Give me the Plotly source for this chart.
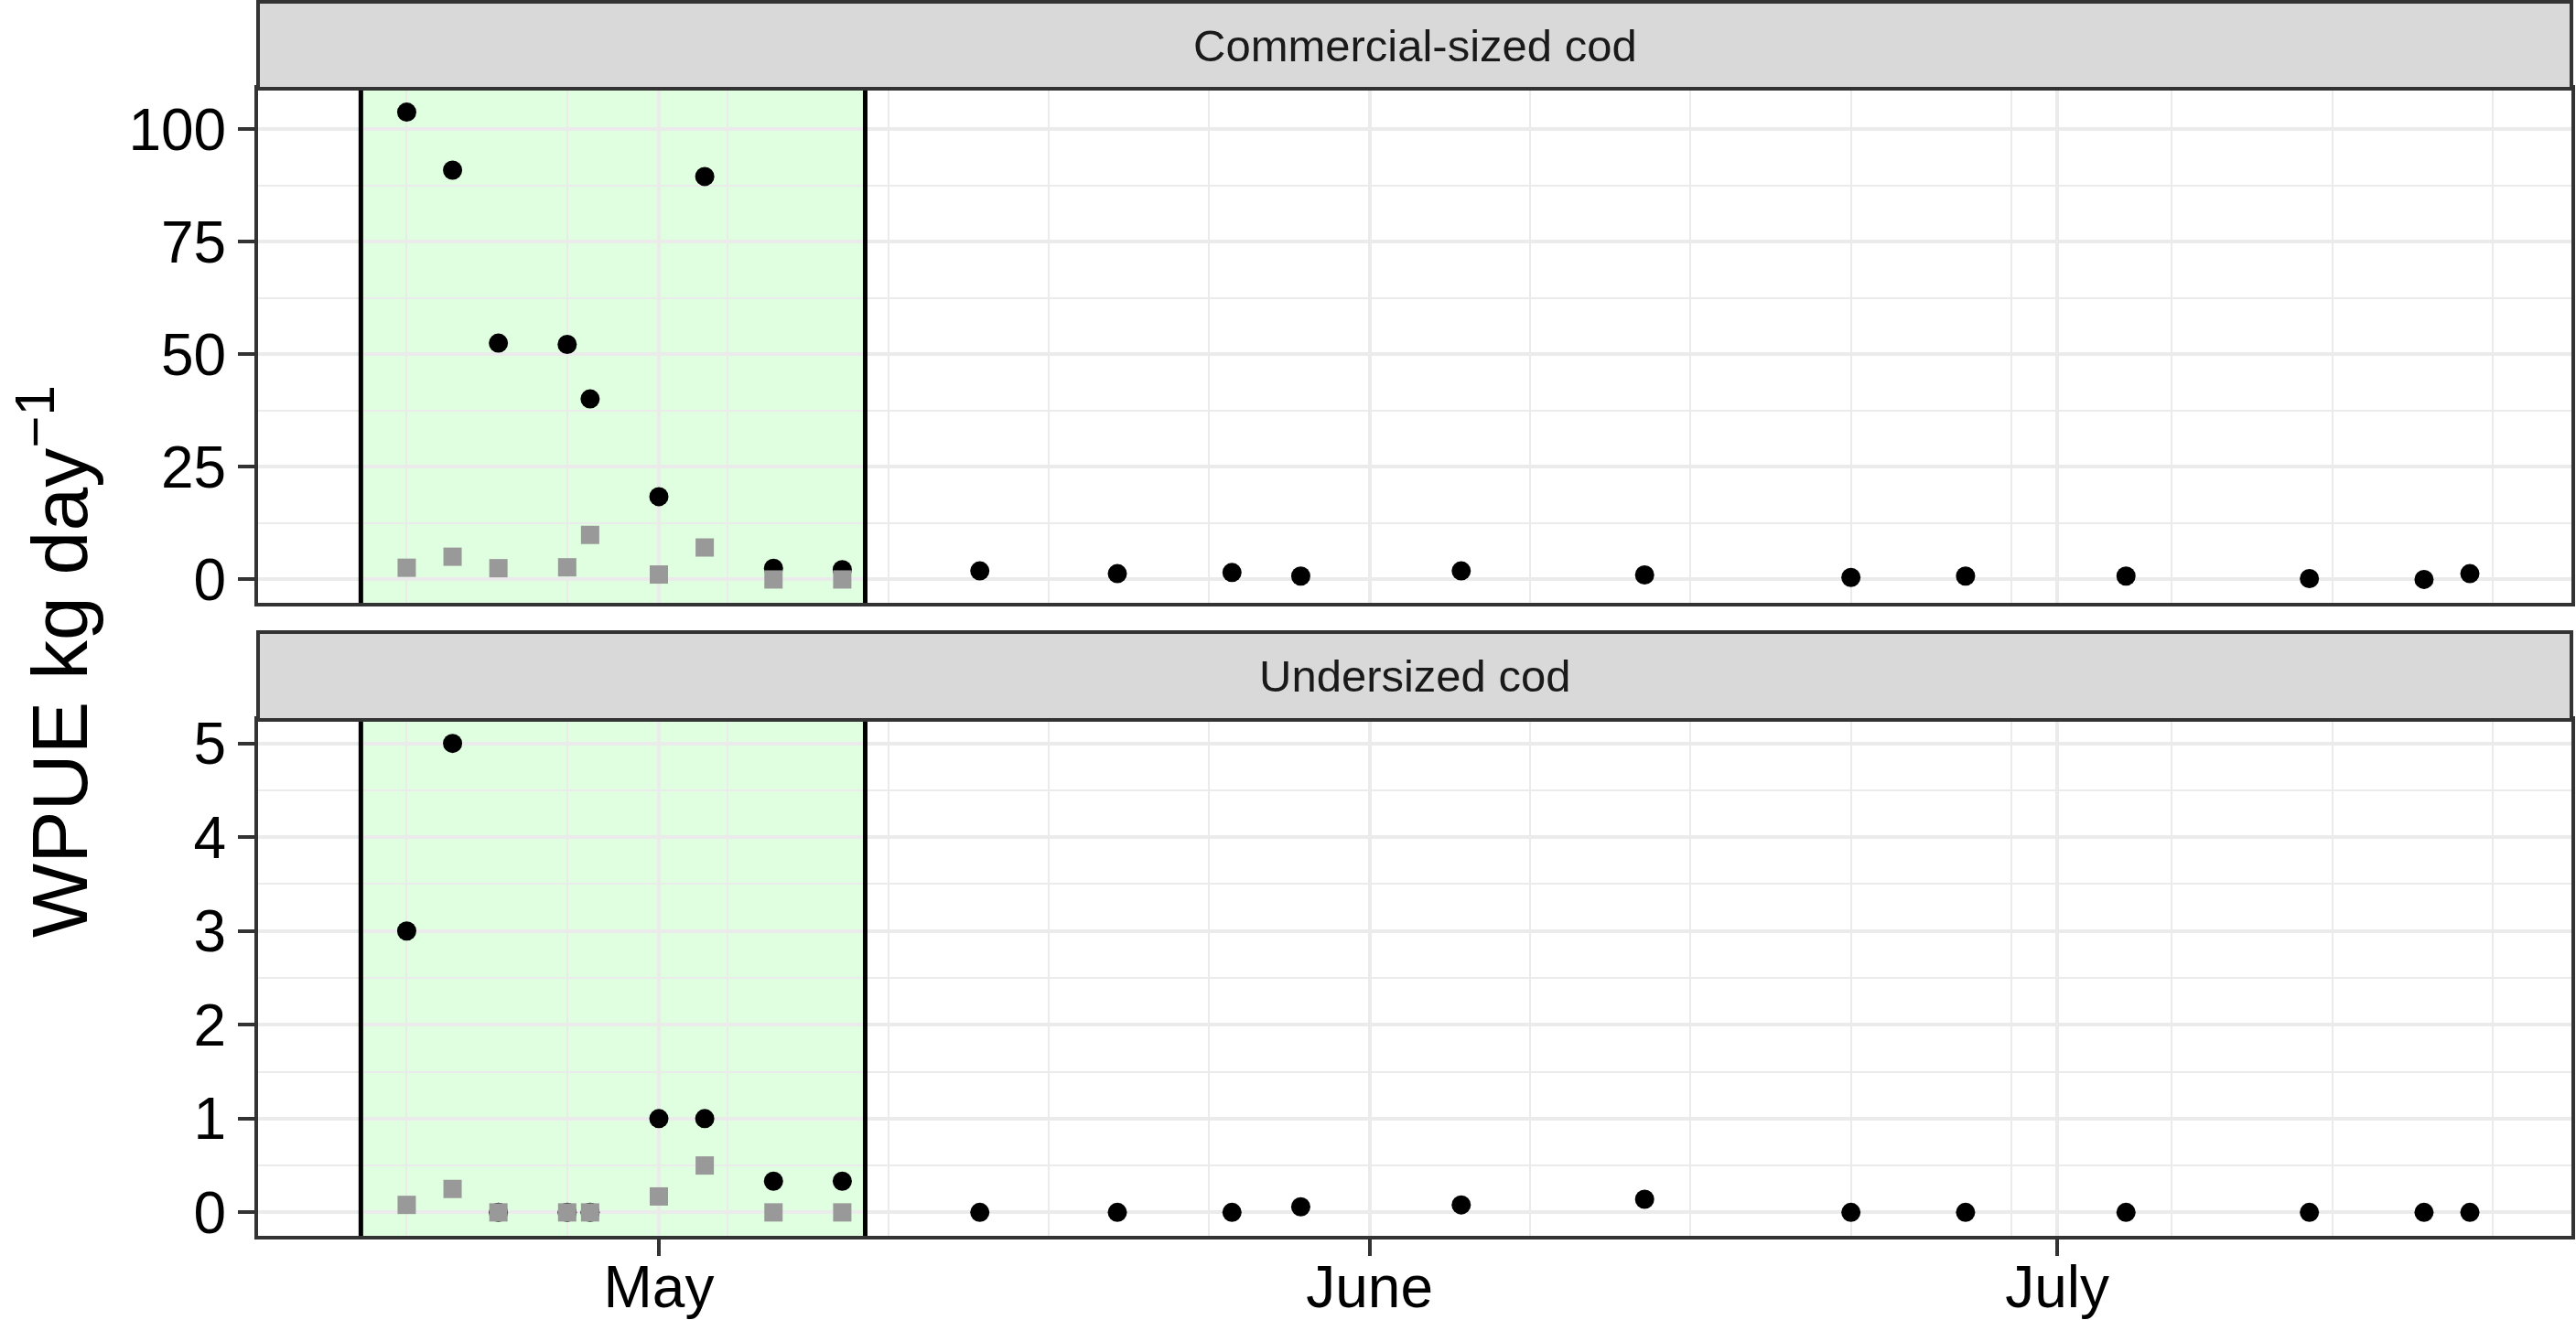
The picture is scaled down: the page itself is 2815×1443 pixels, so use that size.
import plotly.graph_objects as go

# sampling dates (black circles = all trips, grey squares = trips inside the closure)
black_dates = ["2017-04-20", "2017-04-22", "2017-04-24", "2017-04-27", "2017-04-28",
               "2017-05-01", "2017-05-03", "2017-05-06", "2017-05-09", "2017-05-15",
               "2017-05-21", "2017-05-26", "2017-05-29", "2017-06-05", "2017-06-13",
               "2017-06-22", "2017-06-27", "2017-07-04", "2017-07-12", "2017-07-17",
               "2017-07-19"]
commercial_black = [103.8, 90.9, 52.5, 52.2, 40.1, 18.4, 89.5, 2.5, 2.2, 1.9,
                    1.3, 1.55, 0.75, 1.9, 1.0, 0.45, 0.75, 0.75, 0.2, 0.0, 1.3]
undersized_black = [3.0, 5.0, 0.0, 0.0, 0.0, 1.0, 1.0, 0.333, 0.333, 0.0,
                    0.0, 0.0, 0.06, 0.08, 0.14, 0.0, 0.0, 0.0, 0.0, 0.0, 0.0]

grey_dates = ["2017-04-20", "2017-04-22", "2017-04-24", "2017-04-27", "2017-04-28",
              "2017-05-01", "2017-05-03", "2017-05-06", "2017-05-09"]
commercial_grey = [2.6, 5.05, 2.5, 2.7, 9.9, 1.1, 7.1, 0.0, 0.0]
undersized_grey = [0.08, 0.25, 0.0, 0.0, 0.0, 0.17, 0.5, 0.0, 0.0]

month_ticks = ["2017-05-01", "2017-06-01", "2017-07-01"]
month_labels = ["May", "June", "July"]
closure_start = "2017-04-18"
closure_end = "2017-05-10"
panel_titles = ["Commercial-sized cod", "Undersized cod"]

W, H = 2815, 1443
ML, MR, MT, MB = 282, 5, 0, 92
PH = H - MT - MB
FONT = "Liberation Sans, Arial, sans-serif"


def py(px):
    # pixel row (from top of plot area) -> paper y
    return 1 - px / PH


fig = go.Figure()

for xa, ya, yb, yg in [("x", "y", commercial_black, commercial_grey),
                       ("x2", "y2", undersized_black, undersized_grey)]:
    fig.add_trace(go.Scatter(x=black_dates, y=yb, mode="markers", xaxis=xa, yaxis=ya,
                             marker=dict(color="black", size=21, symbol="circle"),
                             showlegend=False))
    fig.add_trace(go.Scatter(x=grey_dates, y=yg, mode="markers", xaxis=xa, yaxis=ya,
                             marker=dict(color="#999999", size=20, symbol="square"),
                             showlegend=False))

shapes = []
for xr, yr in [("x", "y domain"), ("x2", "y2 domain")]:
    shapes.append(dict(type="rect", xref=xr, yref=yr, x0=closure_start, x1=closure_end,
                       y0=0, y1=1, fillcolor="#E0FFE0", line_width=0,
                       layer="below"))
    for d in [closure_start, closure_end]:
        shapes.append(dict(type="line", xref=xr, yref=yr, x0=d, x1=d, y0=0, y1=1,
                           line=dict(color="black", width=5), layer="above"))

# facet strips
for top, bot in [(2, 97), (691, 787)]:
    shapes.append(dict(type="rect", xref="paper", yref="paper", x0=0, x1=1,
                       y0=py(bot), y1=py(top), fillcolor="#D9D9D9",
                       line=dict(color="#333333", width=4), layer="above"))

annotations = []
for title, (top, bot) in zip(panel_titles, [(2, 97), (691, 787)]):
    annotations.append(dict(text=title, xref="paper", yref="paper", x=0.5,
                            y=py((top + bot) / 2), showarrow=False,
                            xanchor="center", yanchor="middle",
                            font=dict(family=FONT, size=49, color="#1A1A1A")))
annotations.append(dict(text="WPUE kg day<sup>\u22121</sup>", xref="paper", yref="paper",
                        x=(59 - ML) / (W - ML - MR), y=py(723), textangle=-90,
                        showarrow=False, xanchor="center", yanchor="middle",
                        font=dict(family=FONT, size=86, color="black")))

x_range = ["2017-04-13 12:22", "2017-07-23 10:19"]
axis_common = dict(showline=True, mirror=True, linecolor="#333333", linewidth=4,
                   gridcolor="#EBEBEB", gridwidth=4, zeroline=False, automargin=False,
                   tickfont=dict(family=FONT, size=64, color="black"),
                   ticks="outside", ticklen=18, tickwidth=4, tickcolor="#333333")
week_minor = dict(tick0="2017-04-20", dtick=7 * 86400000, showgrid=True,
                  gridcolor="#EBEBEB", gridwidth=2, ticks="")

fig.update_layout(
    width=W, height=H,
    margin=dict(l=ML, r=MR, t=MT, b=MB, autoexpand=False),
    paper_bgcolor="white", plot_bgcolor="white",
    shapes=shapes, annotations=annotations,
    xaxis=dict(axis_common, type="date", range=x_range, domain=[0, 1], anchor="y",
               matches="x2", tickvals=month_ticks, ticktext=month_labels,
               showticklabels=False, ticks="", minor=week_minor),
    xaxis2=dict(axis_common, type="date", range=x_range, domain=[0, 1], anchor="y2",
                tickvals=month_ticks, ticktext=month_labels, minor=week_minor,
                ticklabelstandoff=-21),
    yaxis=dict(axis_common, domain=[py(659), py(97)], anchor="x",
               range=[-5.19, 108.99], tickvals=[0, 25, 50, 75, 100],
               minor=dict(tick0=0, dtick=12.5, showgrid=True, gridcolor="#EBEBEB",
                          gridwidth=2, ticks="")),
    yaxis2=dict(axis_common, domain=[0, py(787)], anchor="x2",
                range=[-0.25, 5.25], tickvals=[0, 1, 2, 3, 4, 5],
                minor=dict(tick0=0, dtick=0.5, showgrid=True, gridcolor="#EBEBEB",
                           gridwidth=2, ticks="")),
)

# drop the browser's default 8px body margin so the figure fills the window
fig.write_html("out.html", config={"displayModeBar": False},
               post_script="document.body.style.margin='0';")
